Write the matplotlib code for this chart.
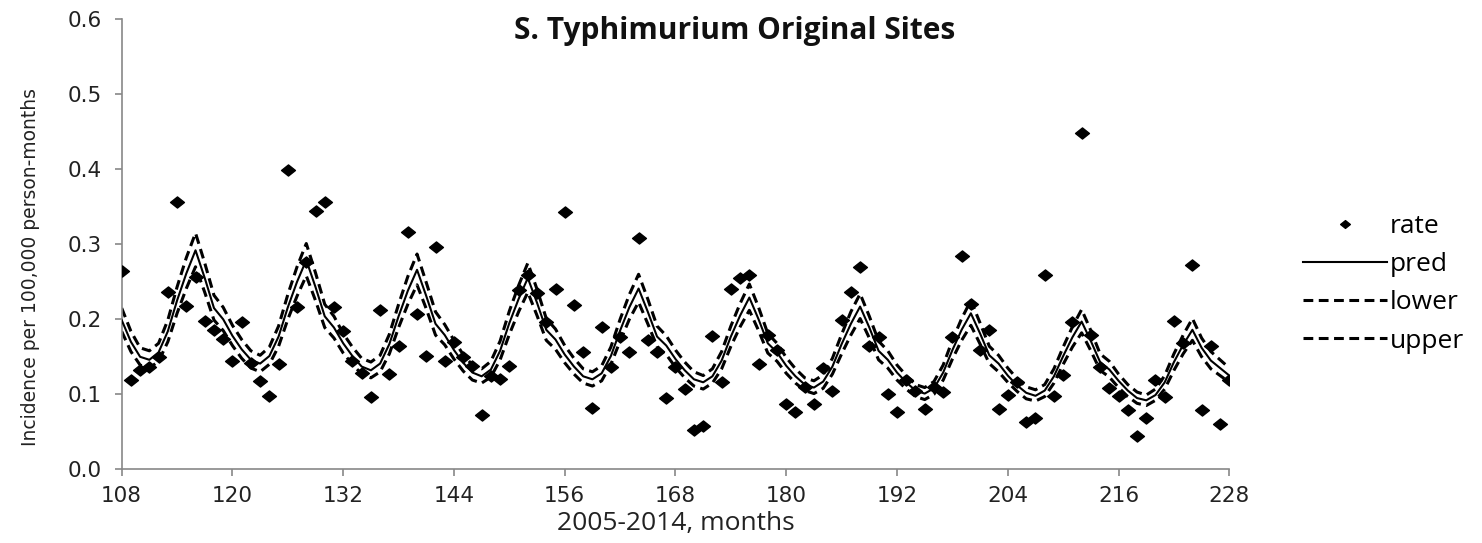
import matplotlib
matplotlib.use("Agg")
import matplotlib.pyplot as plt
from matplotlib.lines import Line2D
from matplotlib.path import Path

months = list(range(108, 229))

rate = [0.265, 0.119, 0.132, 0.136, 0.150, 0.236, 0.356, 0.218, 0.257, 0.198,
        0.186, 0.174, 0.144, 0.196, 0.142, 0.118, 0.098, 0.141, 0.399, 0.217,
        0.277, 0.344, 0.357, 0.216, 0.184, 0.145, 0.128, 0.096, 0.212, 0.127,
        0.164, 0.317, 0.207, 0.151, 0.297, 0.145, 0.170, 0.150, 0.138, 0.072,
        0.124, 0.120, 0.138, 0.239, 0.259, 0.235, 0.197, 0.240, 0.343, 0.219,
        0.156, 0.082, 0.190, 0.136, 0.177, 0.156, 0.309, 0.173, 0.156, 0.095,
        0.137, 0.107, 0.052, 0.058, 0.178, 0.117, 0.241, 0.255, 0.259, 0.141,
        0.179, 0.159, 0.087, 0.076, 0.110, 0.087, 0.135, 0.105, 0.199, 0.236,
        0.270, 0.164, 0.176, 0.100, 0.076, 0.119, 0.104, 0.081, 0.110, 0.103,
        0.176, 0.284, 0.220, 0.159, 0.186, 0.080, 0.099, 0.116, 0.063, 0.068,
        0.259, 0.098, 0.126, 0.196, 0.448, 0.179, 0.137, 0.109, 0.098, 0.079,
        0.044, 0.068, 0.119, 0.097, 0.198, 0.168, 0.273, 0.079, 0.164, 0.061,
        0.119]

pred = [0.199, 0.170, 0.150, 0.146, 0.156, 0.184, 0.225, 0.261, 0.292, 0.255,
        0.215, 0.200, 0.178, 0.160, 0.146, 0.141, 0.151, 0.177, 0.216, 0.250,
        0.279, 0.243, 0.204, 0.189, 0.168, 0.151, 0.137, 0.132, 0.141, 0.167,
        0.204, 0.238, 0.266, 0.231, 0.194, 0.179, 0.159, 0.142, 0.129, 0.124,
        0.133, 0.158, 0.195, 0.227, 0.255, 0.222, 0.186, 0.173, 0.153, 0.137,
        0.124, 0.120, 0.128, 0.151, 0.185, 0.216, 0.241, 0.210, 0.177, 0.165,
        0.147, 0.132, 0.120, 0.116, 0.124, 0.145, 0.177, 0.205, 0.229, 0.200,
        0.168, 0.156, 0.138, 0.124, 0.113, 0.109, 0.117, 0.137, 0.167, 0.194,
        0.217, 0.189, 0.158, 0.146, 0.129, 0.116, 0.105, 0.101, 0.108, 0.129,
        0.159, 0.186, 0.208, 0.181, 0.152, 0.141, 0.125, 0.112, 0.102, 0.098,
        0.105, 0.124, 0.151, 0.176, 0.197, 0.171, 0.143, 0.133, 0.118, 0.105,
        0.095, 0.092, 0.099, 0.116, 0.143, 0.166, 0.186, 0.162, 0.145, 0.135,
        0.125]

upper = [0.215, 0.184, 0.162, 0.158, 0.168, 0.199, 0.243, 0.282, 0.315, 0.275,
         0.232, 0.216, 0.192, 0.173, 0.158, 0.152, 0.163, 0.191, 0.233, 0.270,
         0.301, 0.262, 0.220, 0.204, 0.181, 0.163, 0.148, 0.143, 0.152, 0.180,
         0.220, 0.257, 0.287, 0.249, 0.210, 0.193, 0.172, 0.153, 0.139, 0.134,
         0.144, 0.171, 0.211, 0.245, 0.275, 0.240, 0.201, 0.187, 0.165, 0.148,
         0.134, 0.130, 0.138, 0.163, 0.200, 0.233, 0.260, 0.227, 0.191, 0.178,
         0.159, 0.143, 0.130, 0.125, 0.134, 0.157, 0.191, 0.221, 0.247, 0.216,
         0.181, 0.168, 0.149, 0.134, 0.122, 0.118, 0.126, 0.148, 0.180, 0.210,
         0.234, 0.204, 0.171, 0.158, 0.139, 0.125, 0.113, 0.109, 0.117, 0.139,
         0.172, 0.201, 0.225, 0.195, 0.164, 0.152, 0.135, 0.121, 0.110, 0.106,
         0.113, 0.134, 0.163, 0.190, 0.213, 0.185, 0.154, 0.144, 0.127, 0.113,
         0.103, 0.099, 0.107, 0.125, 0.154, 0.179, 0.201, 0.175, 0.157, 0.146,
         0.135]

lower = [0.184, 0.157, 0.139, 0.135, 0.144, 0.170, 0.208, 0.241, 0.270, 0.236,
         0.199, 0.185, 0.165, 0.148, 0.135, 0.130, 0.140, 0.164, 0.200, 0.231,
         0.258, 0.225, 0.189, 0.175, 0.155, 0.140, 0.127, 0.122, 0.130, 0.154,
         0.189, 0.220, 0.246, 0.214, 0.179, 0.166, 0.147, 0.131, 0.119, 0.115,
         0.123, 0.146, 0.180, 0.210, 0.236, 0.205, 0.172, 0.160, 0.142, 0.127,
         0.115, 0.111, 0.118, 0.140, 0.171, 0.200, 0.223, 0.194, 0.164, 0.153,
         0.136, 0.122, 0.111, 0.107, 0.115, 0.134, 0.164, 0.190, 0.212, 0.185,
         0.155, 0.144, 0.128, 0.115, 0.105, 0.101, 0.108, 0.127, 0.154, 0.179,
         0.201, 0.175, 0.146, 0.135, 0.119, 0.107, 0.097, 0.093, 0.100, 0.119,
         0.147, 0.172, 0.192, 0.167, 0.141, 0.130, 0.116, 0.104, 0.094, 0.091,
         0.097, 0.115, 0.140, 0.163, 0.182, 0.158, 0.132, 0.123, 0.109, 0.097,
         0.088, 0.085, 0.092, 0.107, 0.132, 0.154, 0.172, 0.150, 0.134, 0.125,
         0.116]

x_ticks = [108, 120, 132, 144, 156, 168, 180, 192, 204, 216, 228]
y_ticks = [0.0, 0.1, 0.2, 0.3, 0.4, 0.5, 0.6]

title = "S. Typhimurium Original Sites"
xlabel = "2005-2014, months"
ylabel = "Incidence per 100,000 person-months"
legend_labels = ["rate", "pred", "lower", "upper"]

narrow = ["Liberation Sans Narrow", "DejaVu Sans"]
humanist = ["Open Sans", "DejaVu Sans"]
wide = ["DejaVu Sans"]

# wide, flat diamond like the Excel marker
diamond = Path([(-1, 0), (0, 0.8), (1, 0), (0, -0.8), (-1, 0)],
               [Path.MOVETO, Path.LINETO, Path.LINETO, Path.LINETO, Path.CLOSEPOLY])

fig = plt.figure(figsize=(14.82, 5.43), dpi=100)
ax = fig.add_axes([0.0821, 0.1357, 0.7474, 0.8288])

dash = (0, (3.2, 1.8))
ax.plot(months, lower, color="black", lw=2.2, linestyle=dash, zorder=2)
ax.plot(months, upper, color="black", lw=2.2, linestyle=dash, zorder=2)
ax.plot(months, pred, color="black", lw=1.5, zorder=3)
ax.plot(months, rate, linestyle="none", marker=diamond, markersize=10,
        color="black", zorder=4)

ax.set_xlim(108, 228)
ax.set_ylim(0, 0.6)
ax.set_xticks(x_ticks)
ax.set_yticks(y_ticks)
ax.set_yticklabels([f"{v:.1f}" for v in y_ticks])
for s in ["top", "right"]:
    ax.spines[s].set_visible(False)
for s in ["left", "bottom"]:
    ax.spines[s].set_color("#888888")
    ax.spines[s].set_linewidth(1.2)
ax.tick_params(axis="both", colors="#888888", length=5, width=1.2,
               labelcolor="#222222", labelsize=15.5)
ax.tick_params(axis="y", pad=9)
ax.tick_params(axis="x", pad=7)
for lab in ax.get_xticklabels() + ax.get_yticklabels():
    lab.set_family(wide)

ax.set_xlabel(xlabel, fontsize=19, family=humanist, color="#222222")
ax.xaxis.set_label_coords(0.5, -0.092)
ax.set_ylabel(ylabel, fontsize=13.5, family=narrow, color="#222222")
ax.yaxis.set_label_coords(-0.074, 0.45)

fig.text(735 / 1482, 1 - 31 / 543, title, ha="center", va="center",
         fontsize=21.5, fontweight="bold", family=humanist, color="#111111")

handles = [
    Line2D([], [], linestyle="none", marker=diamond, markersize=7, color="black"),
    Line2D([], [], color="black", lw=1.5),
    Line2D([], [], color="black", lw=2.2, linestyle=dash),
    Line2D([], [], color="black", lw=2.2, linestyle=dash),
]
fig.legend(handles, legend_labels, loc="upper left",
           bbox_to_anchor=(1303 / 1482, 1 - 214 / 543), frameon=False,
           borderaxespad=0, borderpad=0, handlelength=3.18,
           handletextpad=0.11, labelspacing=0.5,
           prop={"family": humanist, "size": 19})

fig.savefig("out.png", dpi=100)
